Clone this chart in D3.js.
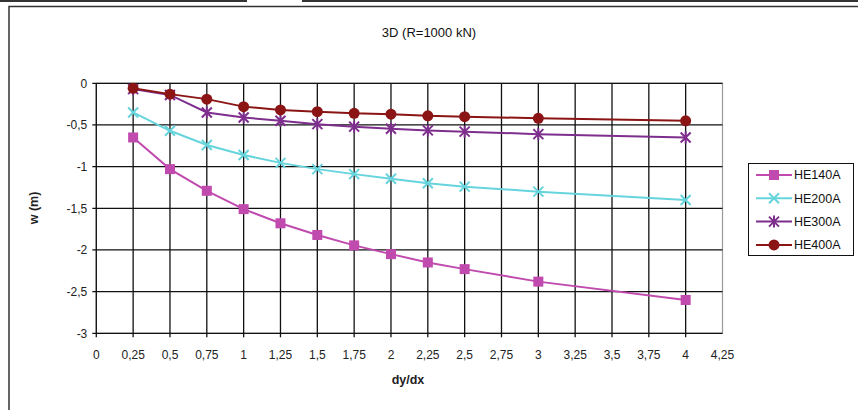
<!DOCTYPE html>
<html>
<head>
<meta charset="utf-8">
<script src="https://cdn.jsdelivr.net/npm/d3@7"></script>
<style>
  html, body { margin: 0; padding: 0; background: #fff; }
  svg { display: block; font-family: "Liberation Sans", Arial, sans-serif; }
</style>
</head>
<body>
<svg id="chart" width="858" height="410"></svg>
<script>
const title = "3D (R=1000 kN)";
const xLabel = "dy/dx";
const yLabel = "w (m)";
const xValues = [0.25, 0.5, 0.75, 1, 1.25, 1.5, 1.75, 2, 2.25, 2.5, 3, 4];
const seriesNames = ["HE140A", "HE200A", "HE300A", "HE400A"];
const he140a = [-0.65, -1.03, -1.29, -1.51, -1.68, -1.82, -1.945, -2.05, -2.15, -2.23, -2.38, -2.60];
const he200a = [-0.35, -0.57, -0.74, -0.86, -0.955, -1.03, -1.09, -1.145, -1.20, -1.24, -1.30, -1.40];
const he300a = [-0.07, -0.14, -0.35, -0.41, -0.45, -0.49, -0.52, -0.545, -0.565, -0.58, -0.61, -0.65];
const he400a = [-0.06, -0.13, -0.19, -0.28, -0.32, -0.34, -0.36, -0.37, -0.39, -0.40, -0.42, -0.45];
const xTicks = [0, 0.25, 0.5, 0.75, 1, 1.25, 1.5, 1.75, 2, 2.25, 2.5, 2.75, 3, 3.25, 3.5, 3.75, 4, 4.25];
const yTicks = [0, -0.5, -1, -1.5, -2, -2.5, -3];
const colors = ["#c04aae", "#66d4dc", "#7e2e8c", "#8b1414"];
const shapes = ["square", "x", "star", "circle"];

(function () {
const allSeries = [he140a, he200a, he300a, he400a];
const svg = d3.select("#chart");

svg.append("line").attr("x1", 0).attr("x2", 247).attr("y1", 1).attr("y2", 1).attr("stroke", "#333").attr("stroke-width", 2);
svg.append("line").attr("x1", 302).attr("x2", 858).attr("y1", 1).attr("y2", 1).attr("stroke", "#333").attr("stroke-width", 2);
svg.append("rect").attr("x", 9).attr("y", 6.5).attr("width", 860).attr("height", 420)
  .attr("fill", "none").attr("stroke", "#333").attr("stroke-width", 1.5);

const pL = 96.3, pR = 722.5, pT = 83.3, pB = 333.3;
const x = d3.scaleLinear().domain([0, 4.25]).range([pL, pR]);
const y = d3.scaleLinear().domain([-3, 0]).range([pB, pT]);

svg.append("rect").attr("x", pL).attr("y", pT).attr("width", pR - pL).attr("height", pB - pT)
  .attr("fill", "none").attr("stroke", "#999").attr("stroke-width", 1.2);

const g = svg.append("g");
g.selectAll(".vg").data(xTicks.filter(d => d > 0 && d < 4.25)).enter().append("line")
  .attr("x1", d => x(d)).attr("x2", d => x(d)).attr("y1", pT).attr("y2", pB + 4)
  .attr("stroke", "#111").attr("stroke-width", 1.3);
g.selectAll(".hg").data(yTicks).enter().append("line")
  .attr("x1", pL - 4).attr("x2", pR).attr("y1", d => y(d)).attr("y2", d => y(d))
  .attr("stroke", "#111").attr("stroke-width", 1.3);
g.append("line").attr("x1", pL).attr("x2", pL).attr("y1", pT).attr("y2", pB + 4)
  .attr("stroke", "#111").attr("stroke-width", 1.3);

const fmt = d => String(d).replace(".", ",");
svg.append("g").selectAll("text").data(yTicks).enter().append("text")
  .attr("x", pL - 9).attr("y", d => y(d)).attr("dy", "0.35em")
  .attr("text-anchor", "end").attr("font-size", 12).attr("fill", "#222")
  .text(fmt);
svg.append("g").selectAll("text").data(xTicks).enter().append("text")
  .attr("x", d => x(d)).attr("y", 355).attr("dy", "0.35em")
  .attr("text-anchor", "middle").attr("font-size", 12).attr("fill", "#222")
  .text(fmt);

svg.append("text").attr("x", 429).attr("y", 37).attr("text-anchor", "middle")
  .attr("font-size", 13).attr("fill", "#111").text(title);
svg.append("text").attr("x", 408).attr("y", 384).attr("text-anchor", "middle")
  .attr("font-size", 12.5).attr("font-weight", "bold").attr("fill", "#222").text(xLabel);
svg.append("text").attr("transform", "translate(38,208) rotate(-90)").attr("text-anchor", "middle")
  .attr("font-size", 12.5).attr("font-weight", "bold").attr("fill", "#222").text(yLabel);

function marker(sel, shape, color, cx, cy) {
  if (shape === "square") {
    sel.append("rect").attr("x", cx - 5).attr("y", cy - 5).attr("width", 10).attr("height", 10).attr("fill", color);
  } else if (shape === "circle") {
    sel.append("circle").attr("cx", cx).attr("cy", cy).attr("r", 5.5).attr("fill", color);
  } else if (shape === "x") {
    const s = 5;
    sel.append("path").attr("d", `M${cx-s},${cy-s}L${cx+s},${cy+s}M${cx-s},${cy+s}L${cx+s},${cy-s}`)
      .attr("stroke", color).attr("stroke-width", 2);
  } else {
    const s = 5;
    sel.append("path").attr("d", `M${cx-s},${cy-s}L${cx+s},${cy+s}M${cx-s},${cy+s}L${cx+s},${cy-s}M${cx},${cy-s-1}L${cx},${cy+s+1}`)
      .attr("stroke", color).attr("stroke-width", 2);
  }
}

const line = d3.line().x(d => x(d[0])).y(d => y(d[1]));
allSeries.forEach((vals, i) => {
  const pts = xValues.map((xv, j) => [xv, vals[j]]);
  svg.append("path").datum(pts).attr("d", line).attr("fill", "none")
    .attr("stroke", colors[i]).attr("stroke-width", 2);
  const mg = svg.append("g");
  pts.forEach(p => marker(mg, shapes[i], colors[i], x(p[0]), y(p[1])));
});

const lg = svg.append("g");
lg.append("rect").attr("x", 748.5).attr("y", 163.5).attr("width", 105).attr("height", 92)
  .attr("fill", "#fff").attr("stroke", "#111").attr("stroke-width", 1);
seriesNames.forEach((name, i) => {
  const cy = 175 + i * 23.3;
  lg.append("line").attr("x1", 756).attr("x2", 792).attr("y1", cy).attr("y2", cy)
    .attr("stroke", colors[i]).attr("stroke-width", 2);
  marker(lg, shapes[i], colors[i], 774, cy);
  lg.append("text").attr("x", 794).attr("y", cy).attr("dy", "0.35em")
    .attr("font-size", 12.5).attr("fill", "#111").text(name);
});
})();
</script>
</body>
</html>
